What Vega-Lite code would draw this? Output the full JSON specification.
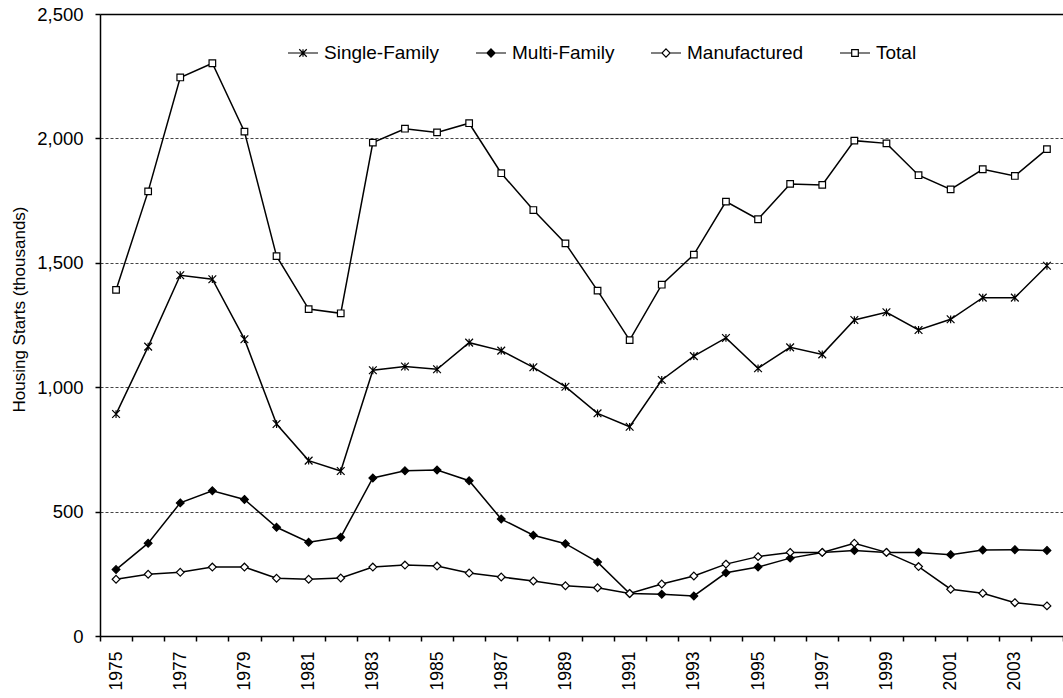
{
  "$schema": "https://vega.github.io/schema/vega-lite/v6.json",
  "autosize": {"type": "none"},
  "padding": {"left": 100, "top": 14, "right": 0, "bottom": 62},
  "width": 963,
  "height": 622,
  "config": {
    "font": "Liberation Sans",
    "view": {"stroke": null},
    "axis": {"labelColor": "#000", "titleColor": "#000", "domainColor": "#000", "tickColor": "#000"}
  },
  "data": {
    "values": [
      {"year": 1975, "series": "Total", "value": 1391},
      {"year": 1976, "series": "Total", "value": 1787},
      {"year": 1977, "series": "Total", "value": 2245},
      {"year": 1978, "series": "Total", "value": 2302},
      {"year": 1979, "series": "Total", "value": 2027},
      {"year": 1980, "series": "Total", "value": 1527},
      {"year": 1981, "series": "Total", "value": 1314},
      {"year": 1982, "series": "Total", "value": 1297},
      {"year": 1983, "series": "Total", "value": 1983},
      {"year": 1984, "series": "Total", "value": 2039},
      {"year": 1985, "series": "Total", "value": 2024},
      {"year": 1986, "series": "Total", "value": 2061},
      {"year": 1987, "series": "Total", "value": 1860},
      {"year": 1988, "series": "Total", "value": 1712},
      {"year": 1989, "series": "Total", "value": 1578},
      {"year": 1990, "series": "Total", "value": 1388},
      {"year": 1991, "series": "Total", "value": 1189},
      {"year": 1992, "series": "Total", "value": 1412},
      {"year": 1993, "series": "Total", "value": 1533},
      {"year": 1994, "series": "Total", "value": 1746},
      {"year": 1995, "series": "Total", "value": 1675},
      {"year": 1996, "series": "Total", "value": 1817},
      {"year": 1997, "series": "Total", "value": 1813},
      {"year": 1998, "series": "Total", "value": 1991},
      {"year": 1999, "series": "Total", "value": 1980},
      {"year": 2000, "series": "Total", "value": 1852},
      {"year": 2001, "series": "Total", "value": 1795},
      {"year": 2002, "series": "Total", "value": 1876},
      {"year": 2003, "series": "Total", "value": 1849},
      {"year": 2004, "series": "Total", "value": 1957},
      {"year": 1975, "series": "Single-Family", "value": 892},
      {"year": 1976, "series": "Single-Family", "value": 1163},
      {"year": 1977, "series": "Single-Family", "value": 1450},
      {"year": 1978, "series": "Single-Family", "value": 1434},
      {"year": 1979, "series": "Single-Family", "value": 1193},
      {"year": 1980, "series": "Single-Family", "value": 852},
      {"year": 1981, "series": "Single-Family", "value": 705},
      {"year": 1982, "series": "Single-Family", "value": 663},
      {"year": 1983, "series": "Single-Family", "value": 1068},
      {"year": 1984, "series": "Single-Family", "value": 1083},
      {"year": 1985, "series": "Single-Family", "value": 1072},
      {"year": 1986, "series": "Single-Family", "value": 1179},
      {"year": 1987, "series": "Single-Family", "value": 1147},
      {"year": 1988, "series": "Single-Family", "value": 1080},
      {"year": 1989, "series": "Single-Family", "value": 1002},
      {"year": 1990, "series": "Single-Family", "value": 895},
      {"year": 1991, "series": "Single-Family", "value": 841},
      {"year": 1992, "series": "Single-Family", "value": 1029},
      {"year": 1993, "series": "Single-Family", "value": 1125},
      {"year": 1994, "series": "Single-Family", "value": 1198},
      {"year": 1995, "series": "Single-Family", "value": 1076},
      {"year": 1996, "series": "Single-Family", "value": 1160},
      {"year": 1997, "series": "Single-Family", "value": 1132},
      {"year": 1998, "series": "Single-Family", "value": 1270},
      {"year": 1999, "series": "Single-Family", "value": 1301},
      {"year": 2000, "series": "Single-Family", "value": 1230},
      {"year": 2001, "series": "Single-Family", "value": 1273},
      {"year": 2002, "series": "Single-Family", "value": 1360},
      {"year": 2003, "series": "Single-Family", "value": 1360},
      {"year": 2004, "series": "Single-Family", "value": 1488},
      {"year": 1975, "series": "Multi-Family", "value": 267},
      {"year": 1976, "series": "Multi-Family", "value": 373},
      {"year": 1977, "series": "Multi-Family", "value": 535},
      {"year": 1978, "series": "Multi-Family", "value": 584},
      {"year": 1979, "series": "Multi-Family", "value": 549},
      {"year": 1980, "series": "Multi-Family", "value": 437},
      {"year": 1981, "series": "Multi-Family", "value": 377},
      {"year": 1982, "series": "Multi-Family", "value": 397},
      {"year": 1983, "series": "Multi-Family", "value": 635},
      {"year": 1984, "series": "Multi-Family", "value": 664},
      {"year": 1985, "series": "Multi-Family", "value": 667},
      {"year": 1986, "series": "Multi-Family", "value": 624},
      {"year": 1987, "series": "Multi-Family", "value": 470},
      {"year": 1988, "series": "Multi-Family", "value": 405},
      {"year": 1989, "series": "Multi-Family", "value": 371},
      {"year": 1990, "series": "Multi-Family", "value": 297},
      {"year": 1991, "series": "Multi-Family", "value": 171},
      {"year": 1992, "series": "Multi-Family", "value": 168},
      {"year": 1993, "series": "Multi-Family", "value": 161},
      {"year": 1994, "series": "Multi-Family", "value": 254},
      {"year": 1995, "series": "Multi-Family", "value": 277},
      {"year": 1996, "series": "Multi-Family", "value": 313},
      {"year": 1997, "series": "Multi-Family", "value": 336},
      {"year": 1998, "series": "Multi-Family", "value": 344},
      {"year": 1999, "series": "Multi-Family", "value": 336},
      {"year": 2000, "series": "Multi-Family", "value": 336},
      {"year": 2001, "series": "Multi-Family", "value": 327},
      {"year": 2002, "series": "Multi-Family", "value": 346},
      {"year": 2003, "series": "Multi-Family", "value": 347},
      {"year": 2004, "series": "Multi-Family", "value": 344},
      {"year": 1975, "series": "Manufactured", "value": 228},
      {"year": 1976, "series": "Manufactured", "value": 248},
      {"year": 1977, "series": "Manufactured", "value": 256},
      {"year": 1978, "series": "Manufactured", "value": 277},
      {"year": 1979, "series": "Manufactured", "value": 277},
      {"year": 1980, "series": "Manufactured", "value": 232},
      {"year": 1981, "series": "Manufactured", "value": 228},
      {"year": 1982, "series": "Manufactured", "value": 233},
      {"year": 1983, "series": "Manufactured", "value": 277},
      {"year": 1984, "series": "Manufactured", "value": 285},
      {"year": 1985, "series": "Manufactured", "value": 281},
      {"year": 1986, "series": "Manufactured", "value": 253},
      {"year": 1987, "series": "Manufactured", "value": 237},
      {"year": 1988, "series": "Manufactured", "value": 221},
      {"year": 1989, "series": "Manufactured", "value": 202},
      {"year": 1990, "series": "Manufactured", "value": 194},
      {"year": 1991, "series": "Manufactured", "value": 171},
      {"year": 1992, "series": "Manufactured", "value": 209},
      {"year": 1993, "series": "Manufactured", "value": 241},
      {"year": 1994, "series": "Manufactured", "value": 289},
      {"year": 1995, "series": "Manufactured", "value": 319},
      {"year": 1996, "series": "Manufactured", "value": 336},
      {"year": 1997, "series": "Manufactured", "value": 336},
      {"year": 1998, "series": "Manufactured", "value": 373},
      {"year": 1999, "series": "Manufactured", "value": 336},
      {"year": 2000, "series": "Manufactured", "value": 279},
      {"year": 2001, "series": "Manufactured", "value": 188},
      {"year": 2002, "series": "Manufactured", "value": 172},
      {"year": 2003, "series": "Manufactured", "value": 134},
      {"year": 2004, "series": "Manufactured", "value": 121}
    ]
  },
  "encoding": {
    "x": {
      "field": "year",
      "type": "ordinal",
      "scale": {"type": "band", "paddingInner": 0, "paddingOuter": 0},
      "axis": {
        "title": null,
        "tickBand": "extent",
        "labelAngle": -90,
        "labelFontSize": 17.5,
        "labelPadding": 10,
        "tickSize": 5,
        "domainWidth": 1.5,
        "tickWidth": 1.5,
        "labelExpr": "datum.value % 2 == 1 ? datum.label : ''",
        "grid": false
      }
    },
    "y": {
      "field": "value",
      "type": "quantitative",
      "scale": {"domain": [0, 2500], "nice": false},
      "axis": {
        "title": "Housing Starts (thousands)",
        "titleFontSize": 17,
        "titleFontWeight": "normal",
        "titlePadding": 8,
        "titleY": 295,
        "values": [0, 500, 1000, 1500, 2000, 2500],
        "format": ",d",
        "labelFontSize": 18.5,
        "labelPadding": 12,
        "tickSize": 5,
        "domainWidth": 1.5,
        "tickWidth": 1.5,
        "grid": true,
        "gridColor": {"condition": {"test": "datum.value == 2500", "value": "#000"}, "value": "#444"},
        "gridDash": {"condition": {"test": "datum.value == 2500", "value": []}, "value": [3, 2]},
        "gridWidth": {"condition": {"test": "datum.value == 2500", "value": 1.5}, "value": 1}
      }
    }
  },
  "layer": [
    {
      "mark": {"type": "line", "color": "#000", "strokeWidth": 1.5},
      "encoding": {"detail": {"field": "series", "type": "nominal"}}
    },
    {
      "mark": {"type": "point", "filled": true, "opacity": 1, "stroke": "#000", "strokeWidth": 1.2, "size": 60},
      "encoding": {
        "shape": {
          "field": "series",
          "type": "nominal",
          "scale": {
            "domain": ["Single-Family", "Multi-Family", "Manufactured", "Total"],
            "range": [
              "M-1,-1L1,1M-1,1L1,-1M0,-1L0,1",
              "M0,-1L1,0L0,1L-1,0Z",
              "M0,-1L1,0L0,1L-1,0Z",
              "M-0.85,-0.85H0.85V0.85H-0.85Z"
            ]
          },
          "legend": null
        },
        "fill": {
          "field": "series",
          "type": "nominal",
          "scale": {
            "domain": ["Single-Family", "Multi-Family", "Manufactured", "Total"],
            "range": ["#000", "#000", "#fff", "#fff"]
          },
          "legend": null
        }
      }
    },
    {
      "mark": {"type": "point", "filled": false, "color": "#000", "opacity": 0, "strokeWidth": 1.2, "size": 60},
      "encoding": {
        "shape": {
          "field": "series",
          "type": "nominal",
          "scale": {
            "domain": ["Single-Family", "Multi-Family", "Manufactured", "Total"],
            "range": [
              "M-1,0H1M-0.25,-0.25L0.25,0.25M-0.25,0.25L0.25,-0.25M0,-0.25L0,0.25",
              "M-1,0H1M0,-0.27L0.27,0L0,0.27L-0.27,0ZM0,-0.18L0.18,0L0,0.18L-0.18,0ZM0,-0.09L0.09,0L0,0.09L-0.09,0Z",
              "M-1,0H-0.27M0.27,0H1M0,-0.27L0.27,0L0,0.27L-0.27,0Z",
              "M-1,0H-0.22M0.22,0H1M-0.22,-0.22H0.22V0.22H-0.22Z"
            ]
          },
          "legend": {
            "title": null,
            "orient": "none",
            "legendX": 187,
            "legendY": 23,
            "direction": "horizontal",
            "padding": 0,
            "labelFontSize": 19,
            "labelColor": "#000",
            "labelOffset": 5,
            "columnPadding": 33,
            "symbolSize": 900,
            "symbolOpacity": 1,
            "symbolStrokeColor": "#000",
            "symbolStrokeWidth": 1.2
          }
        }
      }
    }
  ],
  "resolve": {"scale": {"shape": "independent"}}
}
